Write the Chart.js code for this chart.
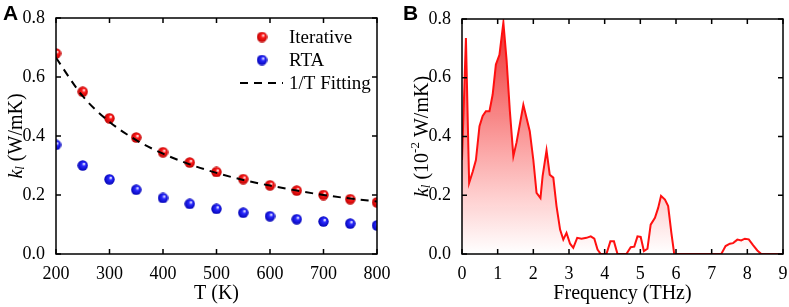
<!DOCTYPE html>
<html>
<head>
<meta charset="utf-8">
<script src="https://cdn.jsdelivr.net/npm/chart.js@4.4.1/dist/chart.umd.min.js"></script>
<style>
  html, body { margin: 0; padding: 0; background: #fff; }
  #wrap { position: relative; width: 789px; height: 307px; overflow: hidden; }
  #chartA { position: absolute; left: 0; top: 0; }
  #chartB { position: absolute; left: 394px; top: 0; }
  .tag { position: absolute; top: 1px; font: bold 21px "Liberation Sans", Arial, sans-serif; }
</style>
</head>
<body>
<div id="wrap">
  <canvas id="chartA" width="394" height="307"></canvas>
  <canvas id="chartB" width="395" height="307"></canvas>
  <div class="tag" style="left:3px">A</div>
  <div class="tag" style="left:403px">B</div>
</div>
<script>
// panel A: thermal conductivity vs temperature
const tempK = [200, 250, 300, 350, 400, 450, 500, 550, 600, 650, 700, 750, 800];
const kIterative = [0.68, 0.55, 0.46, 0.395, 0.345, 0.31, 0.278, 0.254, 0.233, 0.215, 0.2, 0.186, 0.175];
const kRTA = [0.37, 0.30, 0.253, 0.218, 0.19, 0.17, 0.153, 0.14, 0.128, 0.118, 0.11, 0.103, 0.097];
const fitK = [0.665, 0.535, 0.448, 0.386, 0.34, 0.304, 0.275, 0.251, 0.232, 0.215, 0.2, 0.188, 0.178];

// panel B: spectral kappa vs frequency
const freqTHz = [0, 0.11, 0.2, 0.3, 0.39, 0.49, 0.58, 0.67, 0.77, 0.86, 0.95, 1.05, 1.16, 1.25, 1.34, 1.44, 1.53,
  1.72, 1.9, 2.0, 2.09, 2.2, 2.26, 2.37, 2.46, 2.56, 2.65, 2.75, 2.84, 2.93, 3.03, 3.12, 3.23, 3.35, 3.49, 3.61,
  3.71, 3.8, 3.89, 4.05, 4.16, 4.26, 4.36, 4.61, 4.73, 4.83, 4.92, 5.01, 5.1, 5.2, 5.29, 5.41, 5.5, 5.58, 5.69,
  5.78, 5.87, 5.95, 7.27, 7.39, 7.51, 7.6, 7.72, 7.83, 7.93, 8.04, 8.16, 8.28, 8.39, 9];
const kSpectral = [0.32, 0.735, 0.242, 0.28, 0.32, 0.435, 0.47, 0.486, 0.486, 0.543, 0.645, 0.678, 0.788, 0.66,
  0.49, 0.333, 0.38, 0.508, 0.418, 0.32, 0.208, 0.19, 0.265, 0.353, 0.27, 0.26, 0.163, 0.083, 0.049, 0.072,
  0.035, 0.021, 0.055, 0.052, 0.055, 0.06, 0.052, 0.015, 0, 0, 0.043, 0.043, 0, 0, 0.023, 0.025, 0.06, 0.058,
  0.01, 0.018, 0.1, 0.123, 0.157, 0.198, 0.185, 0.163, 0.072, 0, 0, 0.027, 0.035, 0.037, 0.049, 0.046, 0.052,
  0.05, 0.03, 0.012, 0, 0];

const serif = "'Liberation Serif', 'Times New Roman', serif";
Chart.defaults.font.family = serif;
Chart.defaults.font.size = 18;
Chart.defaults.color = '#000';

function sphere(color, dark) {
  const c = document.createElement('canvas');
  c.width = 11; c.height = 11;
  const g = c.getContext('2d');
  const grad = g.createRadialGradient(7, 3.8, 0.3, 5.5, 5.5, 5.6);
  grad.addColorStop(0, '#ffffff');
  grad.addColorStop(0.3, color);
  grad.addColorStop(1, dark);
  g.fillStyle = grad;
  g.beginPath();
  g.arc(5.5, 5.5, 5.2, 0, Math.PI * 2);
  g.fill();
  return c;
}
const redBall = sphere('#ff1a1a', '#b80000');
const blueBall = sphere('#2a2aff', '#0000b0');

function richText(ctx, parts, cx, cy, rotate) {
  let total = 0;
  parts.forEach(p => { ctx.font = p.font; total += ctx.measureText(p.text).width; });
  ctx.save();
  ctx.translate(cx, cy);
  if (rotate) ctx.rotate(-Math.PI / 2);
  ctx.fillStyle = '#000';
  ctx.textBaseline = 'middle';
  ctx.textAlign = 'left';
  let x = -total / 2;
  parts.forEach(p => {
    ctx.font = p.font;
    ctx.fillText(p.text, x, p.dy || 0);
    x += ctx.measureText(p.text).width;
  });
  ctx.restore();
}

// frame, inward ticks on all sides, axis titles, legend
const framePlugin = {
  id: 'frame',
  afterDraw(chart, args, opts) {
    const ctx = chart.ctx;
    const a = chart.chartArea;
    const xs = chart.scales.x, ys = chart.scales.y;
    ctx.save();
    ctx.strokeStyle = '#000';
    ctx.lineWidth = 1.5;
    ctx.strokeRect(a.left, a.top, a.right - a.left, a.bottom - a.top);
    ctx.beginPath();
    xs.ticks.forEach(t => {
      const px = xs.getPixelForValue(t.value);
      ctx.moveTo(px, a.bottom); ctx.lineTo(px, a.bottom - 5);
      ctx.moveTo(px, a.top); ctx.lineTo(px, a.top + 5);
    });
    ys.ticks.forEach(t => {
      const py = ys.getPixelForValue(t.value);
      ctx.moveTo(a.left, py); ctx.lineTo(a.left + 5, py);
      ctx.moveTo(a.right, py); ctx.lineTo(a.right - 5, py);
    });
    ctx.stroke();
    ctx.restore();

    richText(ctx, opts.xTitle, (a.left + a.right) / 2, opts.xTitleY, false);
    richText(ctx, opts.yTitle, opts.yTitleX, (a.top + a.bottom) / 2, true);

    if (opts.legend) {
      ctx.save();
      ctx.font = '19px ' + serif;
      ctx.fillStyle = '#000';
      ctx.textBaseline = 'middle';
      chart.data.datasets.forEach((ds, i) => {
        const y = opts.legend.y + i * 23;
        if (ds.pointStyle && ds.showLine === false) {
          ctx.drawImage(ds.pointStyle, opts.legend.x + 22 - 5.5, y - 5.5);
        } else {
          ctx.strokeStyle = ds.borderColor;
          ctx.lineWidth = ds.borderWidth;
          ctx.setLineDash(ds.borderDash || []);
          ctx.beginPath();
          ctx.moveTo(opts.legend.x, y); ctx.lineTo(opts.legend.x + 43, y);
          ctx.stroke();
          ctx.setLineDash([]);
        }
        ctx.fillText(ds.label, opts.legend.x + 49, y + 1);
      });
      ctx.restore();
    }
  }
};

function axes(xMin, xMax, xStep, yWidth) {
  return {
    x: {
      type: 'linear', min: xMin, max: xMax,
      grid: { display: false }, border: { display: false },
      ticks: { stepSize: xStep, color: '#000', font: { family: serif, size: 18 }, padding: 1, maxRotation: 0 },
      afterFit: s => { s.height = 53; }
    },
    y: {
      min: 0, max: 0.8,
      grid: { display: false }, border: { display: false },
      ticks: { stepSize: 0.2, color: '#000', font: { family: serif, size: 18 }, padding: 3,
        callback: v => v.toFixed(1) },
      afterFit: s => { s.width = yWidth; }
    }
  };
}

new Chart(document.getElementById('chartA'), {
  type: 'line',
  data: {
    datasets: [
      { label: 'Iterative', data: tempK.map((t, i) => ({ x: t, y: kIterative[i] })),
        showLine: false, pointStyle: redBall, pointRadius: 5.5, order: 1 },
      { label: 'RTA', data: tempK.map((t, i) => ({ x: t, y: kRTA[i] })),
        showLine: false, pointStyle: blueBall, pointRadius: 5.5, order: 2 },
      { label: '1/T Fitting', data: tempK.map((t, i) => ({ x: t, y: fitK[i] })),
        borderColor: '#000', borderWidth: 2, borderDash: [8, 6], pointRadius: 0,
        cubicInterpolationMode: 'monotone', order: 0 }
    ]
  },
  options: {
    responsive: false, animation: false, devicePixelRatio: 1,
    layout: { padding: { top: 18, right: 17, left: 0, bottom: 0 } },
    scales: axes(200, 800, 100, 56),
    plugins: {
      legend: { display: false }, tooltip: { enabled: false },
      frame: {
        xTitle: [{ text: 'T (K)', font: '20px ' + serif }], xTitleY: 294,
        yTitle: [{ text: 'k', font: 'italic 20px ' + serif }, { text: 'l', font: 'italic 13px ' + serif, dy: 4 },
          { text: ' (W/mK)', font: '20px ' + serif }], yTitleX: 17,
        legend: { x: 240, y: 37 }
      }
    }
  },
  plugins: [framePlugin]
});

new Chart(document.getElementById('chartB'), {
  type: 'line',
  data: {
    datasets: [{
      label: 'spectral',
      data: freqTHz.map((f, i) => ({ x: f, y: kSpectral[i] })),
      borderColor: '#ff1010', borderWidth: 2, pointRadius: 0, tension: 0,
      fill: 'origin',
      backgroundColor: c => {
        const a = c.chart.chartArea;
        if (!a) return 'rgba(255,0,0,0.3)';
        const g = c.chart.ctx.createLinearGradient(0, a.top, 0, a.bottom);
        g.addColorStop(0, 'rgba(232,20,20,0.9)');
        g.addColorStop(1, 'rgba(255,40,40,0.0)');
        return g;
      }
    }]
  },
  options: {
    responsive: false, animation: false, devicePixelRatio: 1,
    layout: { padding: { top: 19, right: 6, left: 0, bottom: 0 } },
    scales: axes(0, 9, 1, 68),
    plugins: {
      legend: { display: false }, tooltip: { enabled: false },
      frame: {
        xTitle: [{ text: 'Frequency (THz)', font: '20px ' + serif }], xTitleY: 294,
        yTitle: [{ text: 'k', font: 'italic 20px ' + serif }, { text: 'l', font: 'italic 13px ' + serif, dy: 4 },
          { text: ' (10', font: '20px ' + serif }, { text: '-2', font: '13px ' + serif, dy: -7 },
          { text: ' W/mK)', font: '20px ' + serif }], yTitleX: 29
      }
    }
  },
  plugins: [framePlugin]
});
</script>
</body>
</html>
